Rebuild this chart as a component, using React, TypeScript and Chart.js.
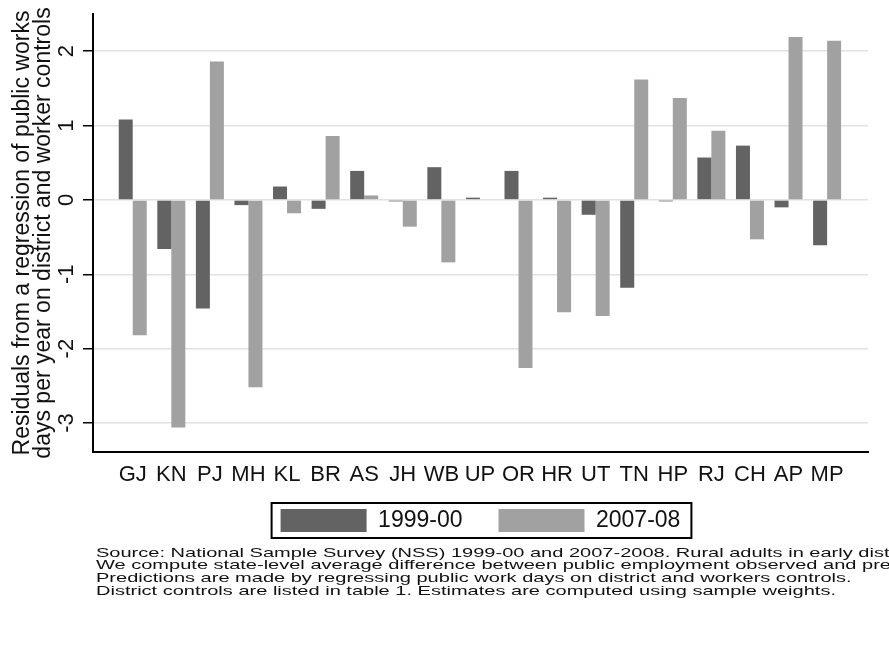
import React, { useEffect, useRef } from "react";
import { Chart, registerables } from "chart.js";

Chart.register(...registerables);

const states = ["GJ", "KN", "PJ", "MH", "KL", "BR", "AS", "JH", "WB", "UP", "OR", "HR", "UT", "TN", "HP", "RJ", "CH", "AP", "MP"];
const series1999 = [1.08, -0.66, -1.46, -0.07, 0.18, -0.12, 0.39, -0.02, 0.44, 0.03, 0.39, 0.03, -0.2, -1.18, -0.02, 0.57, 0.73, -0.1, -0.61];
const series2007 = [-1.82, -3.06, 1.86, -2.52, -0.18, 0.86, 0.06, -0.36, -0.84, -0.01, -2.26, -1.51, -1.56, 1.62, 1.37, 0.93, -0.53, 2.19, 2.14];
const yTicks = [-3, -2, -1, 0, 1, 2];
const seriesLabels = ["1999-00", "2007-08"];
const yTitle = ["Residuals from a regression of public works", "days per year on district and worker controls"];
const noteLines = [
  "Source: National Sample Survey (NSS) 1999-00 and 2007-2008. Rural adults in early districts.",
  "We compute state-level average difference between public employment observed and predicted.",
  "Predictions are made by regressing public work days on district and workers controls.",
  "District controls are listed in table 1. Estimates are computed using sample weights.",
];

const FONT = '"Liberation Sans", Arial, sans-serif';
const TEXT = "#111111";
const LEGEND_PAD = 36;
const LEGEND_GAP = 57; // from plot bottom to legend swatch top

const legendPlacement = {
  id: "legendPlacement",
  afterLayout(chart: any) {
    const lg = chart.legend;
    if (!lg || !chart.chartArea) return;
    const top = chart.chartArea.bottom + LEGEND_GAP - LEGEND_PAD;
    lg.top = top;
    lg.bottom = top + lg.height;
  },
  afterDraw(chart: any) {
    const lg = chart.legend;
    if (!lg || !lg.legendHitBoxes || !lg.legendHitBoxes.length) return;
    const hb = lg.legendHitBoxes;
    const l = Math.min(...hb.map((b: any) => b.left)) - 9;
    const r = Math.max(...hb.map((b: any) => b.left + b.width)) + 11;
    const itemTop = lg.top + LEGEND_PAD;
    const t = itemTop - 6;
    const bt = itemTop + hb[0].height + 6;
    const ctx = chart.ctx;
    ctx.save();
    ctx.strokeStyle = "#000";
    ctx.lineWidth = 2;
    ctx.strokeRect(l, t, r - l, bt - t);
    ctx.restore();
  },
};

export default function App() {
  const ref = useRef<HTMLCanvasElement | null>(null);
  useEffect(() => {
    if (!ref.current) return;
    const chart = new Chart(ref.current, {
      type: "bar",
      data: {
        datasets: [
          {
            label: seriesLabels[0],
            data: series1999.map((v, i) => ({ x: i, y: v })),
            backgroundColor: "#636363",
            borderWidth: 0,
          },
          {
            label: seriesLabels[1],
            data: series2007.map((v, i) => ({ x: i, y: v })),
            backgroundColor: "#a1a1a1",
            borderWidth: 0,
          },
        ],
      },
      plugins: [legendPlacement],
      options: {
        animation: false,
        responsive: false,
        layout: { padding: { left: 12.5, right: 21, top: 14, bottom: 4 } },
        datasets: { bar: { categoryPercentage: 0.726, barPercentage: 1 } },
        plugins: {
          tooltip: { enabled: false },
          legend: {
            position: "bottom",
            fullSize: false,
            labels: {
              boxWidth: 86,
              boxHeight: 23,
              padding: LEGEND_PAD,
              color: TEXT,
              font: { family: FONT, size: 23 },
            },
          },
        },
        scales: {
          x: {
            type: "linear",
            min: -1.03,
            max: 19.06,
            bounds: "data",
            offset: false,
            afterBuildTicks: (s: any) => {
              s.ticks = states.map((_, i) => ({ value: i }));
            },
            afterFit: (s: any) => {
              s.height = 36;
              s.paddingLeft = 0;
              s.paddingRight = 0;
            },
            grid: { display: true, drawOnChartArea: false, drawTicks: false, color: "rgba(0,0,0,0)" },
            border: { display: true, color: "#000", width: 2 },
            ticks: {
              autoSkip: false,
              maxRotation: 0,
              minRotation: 0,
              padding: 10,
              color: TEXT,
              font: { family: FONT, size: 22 },
              callback: (v: any) => states[v] ?? "",
            },
          },
          y: {
            min: -3.39,
            max: 2.5,
            bounds: "data",
            afterBuildTicks: (s: any) => {
              s.ticks = yTicks.map((v) => ({ value: v }));
            },
            afterFit: (s: any) => {
              s.width = 93 - 12.5;
              s.paddingTop = 0;
              s.paddingBottom = 0;
            },
            grid: { color: "#e2e2e2", lineWidth: 1.5, tickLength: 10, tickColor: "#000", tickWidth: 1.5 },
            border: { display: true, color: "#000", width: 2 },
            ticks: {
              minRotation: 90,
              maxRotation: 90,
              crossAlign: "center",
              padding: 6,
              color: TEXT,
              font: { family: FONT, size: 22 },
            },
            title: {
              display: true,
              text: yTitle,
              color: TEXT,
              padding: 0,
              font: { family: FONT, size: 23, lineHeight: "21px" },
            },
          },
        },
      },
    } as any);
    return () => chart.destroy();
  }, []);

  return (
    <div style={{ position: "absolute", left: 0, top: 0, width: 889, height: 647, overflow: "hidden", background: "#fff" }}>
      <canvas ref={ref} width={889} height={561} style={{ display: "block" }} />
      <div
        style={{
          position: "absolute",
          left: 96,
          top: 546.5,
          fontFamily: FONT,
          fontSize: 13,
          lineHeight: "12.7px",
          whiteSpace: "pre",
          transform: "scaleX(1.54)",
          transformOrigin: "0 0",
          color: TEXT,
        }}
      >
        {noteLines.join("\n")}
      </div>
    </div>
  );
}
